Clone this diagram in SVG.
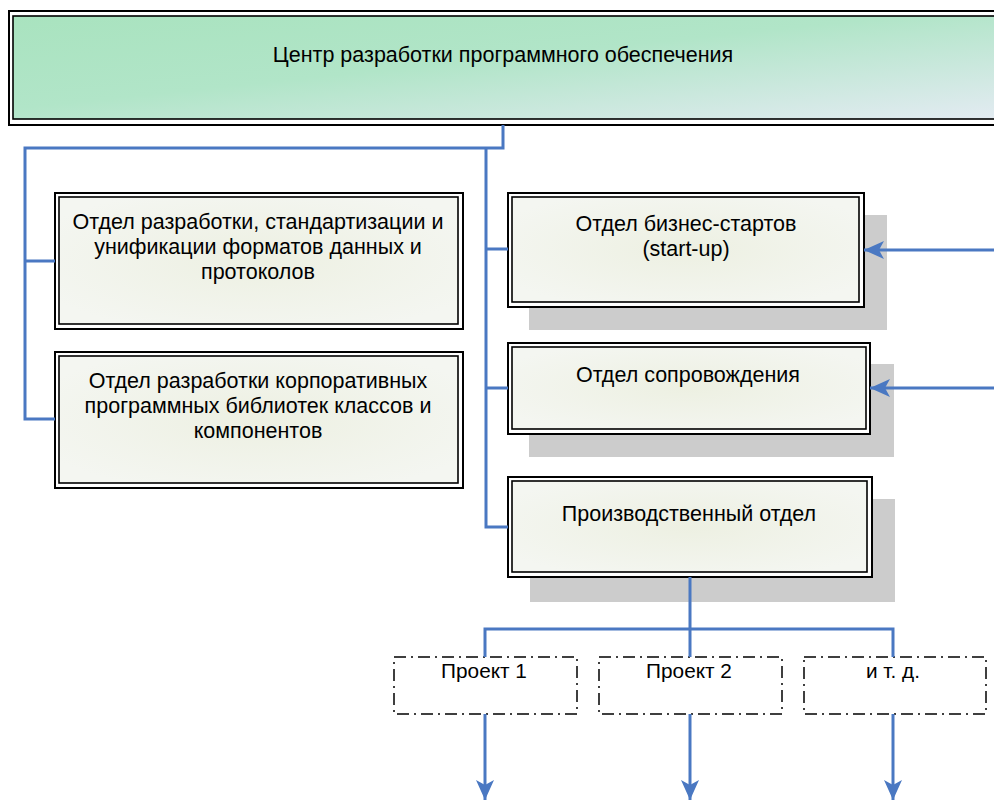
<svg xmlns="http://www.w3.org/2000/svg" width="994" height="800" viewBox="0 0 994 800">
<defs>
<linearGradient id="gTop" x1="0" y1="0" x2="1" y2="1">
<stop offset="0" stop-color="#a9e3bf"/>
<stop offset="0.45" stop-color="#b1e5c8"/>
<stop offset="1" stop-color="#e3ebf2"/>
</linearGradient>
<radialGradient id="gBox" cx="0.5" cy="0.5" r="0.6">
<stop offset="0" stop-color="#edf0e2"/>
<stop offset="1" stop-color="#f4f6f1"/>
</radialGradient>
<marker id="arr" viewBox="0 0 20 18" refX="20" refY="9" markerWidth="20" markerHeight="18" markerUnits="userSpaceOnUse" orient="auto">
<path d="M0,0 L20,9 L0,18 L5,9 Z" fill="#4a78c2"/>
</marker>
</defs>
<style>
text{font-family:"Liberation Sans",Arial,sans-serif;font-size:21.5px;fill:#000;text-anchor:middle}
.small{font-size:20.8px}
.outer{fill:#fff;stroke:#000;stroke-width:2}
.inner{fill:url(#gBox);stroke:#000;stroke-width:1.6}
.shadow{fill:#cccccc}
.proj{fill:#fff;stroke:#000;stroke-width:1.5;stroke-dasharray:12 5 2 5}
.conn{fill:none;stroke:#4a78c2;stroke-width:3}
</style>

<g id="center">
<rect x="9" y="11" width="1000" height="114" fill="#fff" stroke="#000" stroke-width="2"/>
<rect x="13" y="16" width="990" height="103" fill="url(#gTop)" stroke="#000" stroke-width="1.6"/>
<text x="503" y="62">Центр разработки программного обеспечения</text>
</g>

<g id="dept-standards">
<rect class="outer" x="55" y="193" width="408" height="136"/>
<rect class="inner" x="59" y="197" width="399" height="127"/>
<text x="258" y="229">Отдел разработки, стандартизации и</text>
<text x="258" y="254">унификации форматов данных и</text>
<text x="258" y="279">протоколов</text>
</g>

<g id="dept-libraries">
<rect class="outer" x="55" y="352" width="408" height="136"/>
<rect class="inner" x="59" y="356" width="399" height="127"/>
<text x="258" y="388">Отдел разработки корпоративных</text>
<text x="258" y="413">программных библиотек классов и</text>
<text x="258" y="438">компонентов</text>
</g>

<g id="dept-startup">
<rect class="shadow" x="529" y="215" width="358" height="115"/>
<rect class="outer" x="508" y="193" width="356" height="114"/>
<rect class="inner" x="512" y="197" width="347" height="105"/>
<text x="686" y="231">Отдел бизнес-стартов</text>
<text x="686" y="256">(start-up)</text>
</g>

<g id="dept-support">
<rect class="shadow" x="529" y="364" width="365" height="93"/>
<rect class="outer" x="508" y="343" width="362" height="91"/>
<rect class="inner" x="512" y="347" width="354" height="82"/>
<text x="688" y="382">Отдел сопровождения</text>
</g>

<g id="dept-production">
<rect class="shadow" x="530" y="499" width="365" height="103"/>
<rect class="outer" x="508" y="477" width="364" height="100"/>
<rect class="inner" x="512" y="481" width="355" height="91"/>
<text x="689" y="521">Производственный отдел</text>
</g>

<g id="project-1">
<rect class="proj" x="394" y="657" width="183" height="57"/>
<text class="small" x="484" y="678">Проект 1</text>
</g>
<g id="project-2">
<rect class="proj" x="599" y="657" width="183" height="57"/>
<text class="small" x="689" y="678">Проект 2</text>
</g>
<g id="project-etc">
<rect class="proj" x="804" y="657" width="182" height="57"/>
<text class="small" x="893" y="678">и т. д.</text>
</g>

<g id="connectors">
<path class="conn" d="M503,125 V148 H25 V419 H55 M25,261 H55"/>
<path class="conn" d="M486,148 V527 H508 M486,249 H508 M486,388 H508"/>
<path class="conn" d="M994,250 H864" marker-end="url(#arr)"/>
<path class="conn" d="M994,388 H870" marker-end="url(#arr)"/>
<path class="conn" d="M690,577 V629 M485,657 V629 H893 V657 M690,629 V657"/>
<path class="conn" d="M485,714 V800" marker-end="url(#arr)"/>
<path class="conn" d="M690,714 V800" marker-end="url(#arr)"/>
<path class="conn" d="M893,714 V800" marker-end="url(#arr)"/>
</g>
</svg>
